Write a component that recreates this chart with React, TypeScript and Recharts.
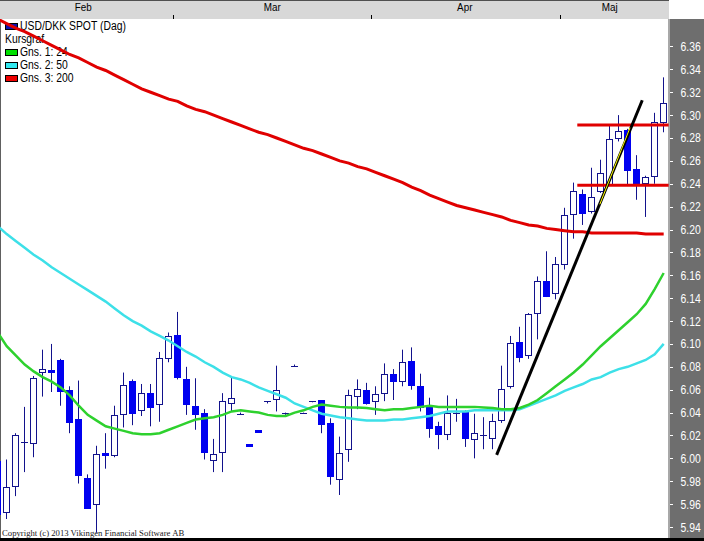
import React from "react";
import { ComposedChart, Bar, Line, XAxis, YAxis, ReferenceLine } from "recharts";

// ---- data ----
const opens = [
  5.998, 5.953, 5.975, 6.014, 6.013, 6.075, 6.077, 6.086, 6.060, 6.034,
  5.983, 5.960, 6.005, 6.003, 6.039, 6.068, 6.042, 6.057, 6.048, 6.088,
  6.108, 6.069, 6.046, 6.040, 5.999, 6.005, 6.049, 6.039, 6.0125, 6.0245,
  6.050, 6.052, 6.040, 6.081, 6.040, 6.050, 6.051, 6.031, 5.982, 6.008,
  6.055, 6.060, 6.050, 6.057, 6.074, 6.067, 6.085, 6.063, 6.045, 6.028,
  6.022, 6.040, 6.041, 6.017, 6.020, 6.018, 6.034, 6.063, 6.102, 6.090,
  6.127, 6.155, 6.145, 6.170, 6.214, 6.231, 6.216, 6.233, 6.239, 6.280,
  6.287, 6.253, 6.241, 6.247, 6.294,
];
const highs = [
  6.000, 5.999, 6.022, 6.045, 6.072, 6.095, 6.100, 6.087, 6.063, 6.068,
  5.986, 6.011, 6.022, 6.046, 6.075, 6.069, 6.065, 6.065, 6.093, 6.110,
  6.128, 6.080, 6.070, 6.043, 6.017, 6.057, 6.071, 6.040, 6.0125, 6.0245,
  6.050, 6.081, 6.040, 6.082, 6.040, 6.050, 6.051, 6.035, 6.019, 6.060,
  6.069, 6.066, 6.063, 6.083, 6.078, 6.095, 6.097, 6.074, 6.053, 6.032,
  6.055, 6.052, 6.042, 6.039, 6.036, 6.039, 6.081, 6.107, 6.115, 6.127,
  6.159, 6.181, 6.176, 6.219, 6.241, 6.235, 6.254, 6.261, 6.292, 6.300,
  6.288, 6.265, 6.247, 6.302, 6.333,
];
const lows = [
  5.948, 5.947, 5.967, 5.988, 6.001, 6.054, 6.058, 6.046, 6.022, 5.978,
  5.956, 5.935, 5.991, 6.001, 6.027, 6.029, 6.037, 6.028, 6.032, 6.084,
  6.069, 6.038, 6.025, 5.999, 5.988, 5.988, 6.041, 6.038, 6.0105, 6.0225,
  6.048, 6.041, 6.038, 6.080, 6.039, 6.049, 6.022, 5.977, 5.968, 5.997,
  6.043, 6.047, 6.038, 6.050, 6.051, 6.063, 6.060, 6.041, 6.018, 6.008,
  6.016, 6.032, 6.010, 6.000, 6.008, 6.008, 6.031, 6.061, 6.084, 6.087,
  6.104, 6.141, 6.139, 6.165, 6.192, 6.204, 6.214, 6.232, 6.238, 6.277,
  6.238, 6.226, 6.211, 6.240, 6.285,
];
const closes = [
  5.952, 5.975, 6.020, 6.014, 6.070, 6.078, 6.075, 6.059, 6.032, 5.985,
  5.957, 6.004, 6.003, 6.038, 6.064, 6.040, 6.057, 6.045, 6.088, 6.107,
  6.071, 6.047, 6.039, 6.006, 6.004, 6.050, 6.053, 6.039, 6.0105, 6.0225,
  6.050, 6.060, 6.040, 6.081, 6.040, 6.050, 6.030, 5.985, 6.005, 6.055,
  6.061, 6.049, 6.056, 6.074, 6.068, 6.084, 6.064, 6.045, 6.027, 6.021,
  6.040, 6.040, 6.017, 6.022, 6.020, 6.033, 6.061, 6.101, 6.089, 6.126,
  6.155, 6.142, 6.170, 6.213, 6.234, 6.214, 6.228, 6.249, 6.279, 6.286,
  6.252, 6.240, 6.246, 6.294, 6.311,
];
const ma24 = [
  6.110, 6.098, 6.090, 6.082, 6.076, 6.071, 6.067, 6.062, 6.055, 6.046,
  6.038, 6.033, 6.028, 6.026, 6.024, 6.022, 6.021, 6.021, 6.022, 6.025,
  6.028, 6.031, 6.034, 6.035, 6.036, 6.038, 6.041, 6.042, 6.041, 6.040,
  6.038, 6.037, 6.037, 6.040, 6.042, 6.045, 6.047, 6.046, 6.045, 6.0445,
  6.0445, 6.044, 6.043, 6.042, 6.043, 6.043, 6.044, 6.045, 6.046, 6.045,
  6.045, 6.045, 6.045, 6.045, 6.0445, 6.044, 6.043, 6.043, 6.044, 6.047,
  6.051, 6.057, 6.063, 6.069, 6.075, 6.082, 6.090, 6.098, 6.105, 6.112,
  6.119, 6.126, 6.135, 6.148, 6.162,
];
const ma50 = [
  6.203, 6.196, 6.190, 6.184, 6.178, 6.173, 6.167, 6.162, 6.157, 6.152,
  6.147, 6.142, 6.137, 6.131, 6.125, 6.120, 6.116, 6.111, 6.107, 6.103,
  6.098, 6.093, 6.089, 6.084, 6.080, 6.075, 6.071, 6.069, 6.066, 6.062,
  6.059, 6.056, 6.053, 6.048, 6.045, 6.042, 6.039, 6.0375, 6.036, 6.035,
  6.034, 6.033, 6.033, 6.033, 6.034, 6.034, 6.035, 6.036, 6.037, 6.039,
  6.041, 6.041, 6.041, 6.042, 6.042, 6.042, 6.042, 6.042, 6.043, 6.046,
  6.049, 6.052, 6.055, 6.059, 6.062, 6.065, 6.069, 6.071, 6.075, 6.078,
  6.080, 6.083, 6.086, 6.091, 6.100,
];
const ma200 = [
  6.384, 6.380, 6.376, 6.373, 6.369, 6.365, 6.361, 6.357, 6.353, 6.350,
  6.346, 6.342, 6.339, 6.335, 6.331, 6.327, 6.323, 6.320, 6.317, 6.314,
  6.312, 6.308, 6.305, 6.303, 6.300, 6.297, 6.294, 6.291, 6.288, 6.285,
  6.283, 6.280, 6.277, 6.274, 6.271, 6.269, 6.266, 6.263, 6.260, 6.258,
  6.255, 6.253, 6.250, 6.247, 6.244, 6.241, 6.237, 6.234, 6.230, 6.227,
  6.224, 6.221, 6.219, 6.217, 6.215, 6.213, 6.211, 6.208, 6.206, 6.204,
  6.203, 6.201, 6.200, 6.199, 6.198, 6.198, 6.197, 6.197, 6.197, 6.197,
  6.197, 6.197, 6.196, 6.196, 6.196,
];
const yTicks = [
  5.94, 5.96, 5.98, 6.0, 6.02, 6.04, 6.06, 6.08, 6.1, 6.12, 6.14,
  6.16, 6.18, 6.2, 6.22, 6.24, 6.26, 6.28, 6.3, 6.32, 6.34, 6.36,
];
const monthLabels = ["Feb", "Mar", "Apr", "Maj"];
const monthCenters = [9.5, 30.5, 51.9, 68.0];
const monthBoundaries = [19.5, 41.5, 62.5];
const trendLine = [
  { x: 55.44, y: 6.003 },
  { x: 71.62, y: 6.313 },
];
const highlightLine = [
  { x: 66.9, y: 6.222 },
  { x: 70.26, y: 6.289 },
];
const levelStart = 64.4;
const levelEnd = 74.55;
const levels = [6.2914, 6.2387];
const seriesTitle = "USD/DKK SPOT (Dag)";
const groupTitle = "Kursgraf";
const maLegend = [
  { label: "Gns. 1: 24", color: "#00e000" },
  { label: "Gns. 2: 50", color: "#30e8f0" },
  { label: "Gns. 3: 200", color: "#ee0000" },
];
const copyright = "Copyright (c) 2013 Vikingen Financial Software AB";

const rows = opens.map((o, i) => ({
  idx: i,
  open: o,
  high: highs[i],
  low: lows[i],
  close: closes[i],
  range: [lows[i], highs[i]],
  ma24: ma24[i],
  ma50: ma50[i],
  ma200: ma200[i],
}));

const SANS = "'Liberation Sans', Arial, sans-serif";
const WICK = "#12128c";
const FILL = "#0000f0";

const Candle = (props: any) => {
  const { x, y, width, height, payload } = props;
  if (!payload || x == null || y == null) return null;
  const { open, close, high, low } = payload;
  const top = Math.min(y, y + height);
  const bot = Math.max(y, y + height);
  const span = high - low;
  const toY = (v: number) => (span > 0 ? top + ((high - v) / span) * (bot - top) : top);
  const cx = Math.floor(x + width / 2) + 0.5;
  const bTop = toY(Math.max(open, close));
  const bBot = toY(Math.min(open, close));
  const up = close > open;
  const h = bBot - bTop;
  return (
    <g>
      <line x1={cx} x2={cx} y1={top} y2={bot} stroke={WICK} strokeWidth={1} />
      {h < 1.2 ? (
        <line x1={cx - 3.5} x2={cx + 3.5} y1={Math.round(bTop) + 0.5} y2={Math.round(bTop) + 0.5} stroke={WICK} strokeWidth={1} />
      ) : (
        <rect
          x={cx - 3}
          y={Math.round(bTop) + 0.5}
          width={6}
          height={Math.max(1, Math.round(h))}
          fill={up ? "#ffffff" : FILL}
          stroke={up ? WICK : FILL}
          strokeWidth={1}
        />
      )}
    </g>
  );
};

const XTick = (props: any) => {
  const { x, y, payload } = props;
  const v = payload.value;
  const mi = monthCenters.indexOf(v);
  if (mi >= 0) {
    return (
      <text
        transform={`translate(${x},${y - 8}) scale(0.86,1)`}
        textAnchor="middle"
        fontSize={11.5}
        fontFamily={SANS}
        fill="#000"
      >
        {monthLabels[mi]}
      </text>
    );
  }
  const lx = Math.round(x) + 0.5;
  return <line x1={lx} x2={lx} y1={y - 4} y2={y} stroke="#000" strokeWidth={1} />;
};

const YTick = (props: any) => {
  const { x, y, payload } = props;
  const ly = Math.round(y) + 0.5;
  return (
    <g>
      <line x1={x + 1} x2={x + 4} y1={ly} y2={ly} stroke="#ffffff" strokeWidth={1} />
      <text
        transform={`translate(${x + 11.5},${y + 4.5}) scale(0.8,1)`}
        fontSize={13}
        fontFamily={SANS}
        fill="#ffffff"
      >
        {Number(payload.value).toFixed(2)}
      </text>
    </g>
  );
};

const legendText: React.CSSProperties = {
  position: "absolute",
  lineHeight: "12px",
  height: 12,
  whiteSpace: "nowrap",
  transform: "scaleX(0.83)",
  transformOrigin: "0 50%",
};

export default function App() {
  return (
    <div style={{ position: "absolute", left: 0, top: 0, width: 704, height: 541, background: "#ffffff", overflow: "hidden" }}>
      {/* header band */}
      <div style={{ position: "absolute", left: 0, top: 0, width: 669, height: 19, background: "#d8d8d8", borderTop: "1px solid #505050", boxSizing: "border-box" }} />
      {/* right axis panel */}
      <div style={{ position: "absolute", left: 668, top: 19, width: 36, height: 519, background: "#6e6e6e", borderLeft: "2px solid #a8a8a8", boxSizing: "border-box" }} />
      {/* left border */}
      <div style={{ position: "absolute", left: 0, top: 19, width: 1, height: 519, background: "#606060" }} />
      {/* bottom border */}
      <div style={{ position: "absolute", left: 0, top: 538, width: 704, height: 3, background: "#000000" }} />
      {/* legend */}
      <div style={{ position: "absolute", left: 0, top: 0, width: 300, height: 100, fontFamily: SANS, fontSize: 12.5, color: "#000" }}>
        <div style={{ position: "absolute", left: 5, top: 23, width: 13, height: 7, background: "#1010b0", border: "1px solid #000", boxSizing: "border-box" }} />
        <div style={{ ...legendText, left: 20, top: 19.5 }}>{seriesTitle}</div>
        <div style={{ ...legendText, left: 5, top: 32.5 }}>{groupTitle}</div>
        {maLegend.map((m, i) => (
          <React.Fragment key={m.label}>
            <div style={{ position: "absolute", left: 5, top: 49 + i * 13, width: 13, height: 7, background: m.color, border: "1px solid #000", boxSizing: "border-box" }} />
            <div style={{ ...legendText, left: 20, top: 45.5 + i * 13 }}>{m.label}</div>
          </React.Fragment>
        ))}
      </div>
      {/* copyright */}
      <div style={{ position: "absolute", left: 2, top: 528, fontFamily: "'Liberation Serif', 'Times New Roman', serif", fontSize: 8.7, lineHeight: "10px", color: "#222", whiteSpace: "nowrap" }}>
        {copyright}
      </div>
      <div style={{ position: "absolute", left: 0, top: 0 }}>
        <ComposedChart width={704} height={541} data={rows} margin={{ top: 0, right: 0, bottom: 3, left: 0 }}>
          <XAxis
            dataKey="idx"
            type="number"
            orientation="top"
            height={19}
            domain={[0.2556, 74.59]}
            allowDataOverflow
            ticks={[...monthCenters, ...monthBoundaries].sort((a, b) => a - b)}
            interval={0}
            tick={<XTick />}
            tickLine={false}
            axisLine={false}
            tickSize={0}
            tickMargin={0}
          />
          <YAxis
            type="number"
            orientation="right"
            width={35}
            domain={[5.9304, 6.384]}
            allowDataOverflow
            ticks={yTicks}
            interval={0}
            tick={<YTick />}
            tickLine={false}
            axisLine={false}
            tickSize={0}
            tickMargin={0}
          />
          <Bar dataKey="range" barSize={7} shape={<Candle />} isAnimationActive={false} />
          <Line dataKey="ma200" type="linear" stroke="#e00000" strokeWidth={3} dot={false} isAnimationActive={false} />
          <Line dataKey="ma50" type="linear" stroke="#3de0e8" strokeWidth={2.5} dot={false} isAnimationActive={false} />
          <Line dataKey="ma24" type="linear" stroke="#2ed12e" strokeWidth={2.5} dot={false} isAnimationActive={false} />
          {levels.map((lv) => (
            <ReferenceLine
              key={lv}
              segment={[{ x: levelStart, y: lv }, { x: levelEnd, y: lv }]}
              stroke="#e00000"
              strokeWidth={3}
              ifOverflow="hidden"
            />
          ))}
          <ReferenceLine segment={trendLine} stroke="#000000" strokeWidth={3} ifOverflow="hidden" />
          <ReferenceLine segment={highlightLine} stroke="#ffff00" strokeWidth={1} ifOverflow="hidden" />
        </ComposedChart>
      </div>
    </div>
  );
}
